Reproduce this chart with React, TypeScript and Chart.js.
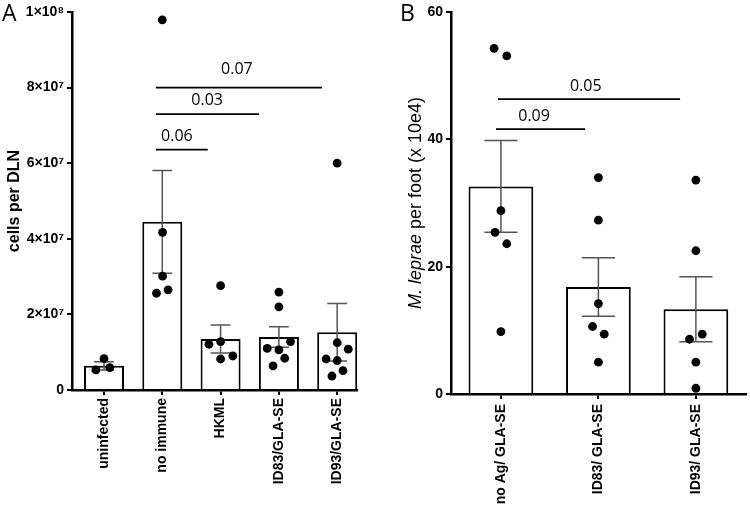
import React, { useEffect, useRef } from 'react';
import { Chart, registerables } from 'chart.js';

Chart.register(...registerables);

const FONT = '"Liberation Sans", Arial, "DejaVu Sans", sans-serif';
const NOTE_FONT = '"Open Sans", "Liberation Sans", sans-serif';

// ---------- Panel A data ----------
const categoriesA = ['uninfected', 'no immune', 'HKML', 'ID83/GLA-SE', 'ID93/GLA-SE'];
const meansA = [6.4e6, 4.45e7, 1.35e7, 1.4e7, 1.53e7];
const semA = [1.1e6, 1.36e7, 3.7e6, 2.7e6, 7.6e6];
const pointsA = [
  [8.3e6, 5.3e6, 5.9e6],
  [9.79e7, 4.17e7, 3.01e7, 2.56e7, 2.65e7],
  [2.76e7, 1.28e7, 1.21e7, 8.2e6, 9.0e6],
  [2.59e7, 2.2e7, 1.28e7, 1.1e7, 1.06e7, 8.4e6, 6.4e6],
  [6.0e7, 1.25e7, 1.08e7, 8.2e6, 7.8e6, 5.1e6, 3.7e6],
];
const jitterA = [
  [0, -0.14, 0.1],
  [0, 0.005, 0.005, -0.1, 0.1],
  [0, 0, -0.2, 0, 0.21],
  [0, 0, 0.2, -0.2, 0, 0.1, -0.1],
  [0, 0, 0.19, -0.19, 0, 0.1, -0.09],
];
const yTicksA = [0, 2e7, 4e7, 6e7, 8e7, 1e8];
const yTickLabelsA = ['0', '2×10⁷', '4×10⁷', '6×10⁷', '8×10⁷', '1×10⁸'];
const bracketFromA = [0.89, 0.89, 0.89];
const bracketToA = [1.78, 2.66, 3.74];
const bracketYA = [6.36e7, 7.3e7, 8.0e7];
const bracketLabelA = ['0.06', '0.03', '0.07'];
const bracketLabelXA = [1.25, 1.77, 2.28];
const bracketLabelYA = [6.7e7, 7.65e7, 8.47e7];

// ---------- Panel B data ----------
const categoriesB = ['no Ag/ GLA-SE', 'ID83/ GLA-SE', 'ID93/ GLA-SE'];
const meansB = [32.6, 16.8, 13.3];
const semB = [7.2, 4.6, 5.1];
const pointsB = [
  [54.3, 53.1, 28.8, 25.4, 23.6, 9.8],
  [34.0, 27.3, 14.2, 10.6, 9.4, 5.0],
  [33.6, 22.5, 9.4, 8.6, 5.0, 0.9],
];
const jitterB = [
  [-0.07, 0.06, 0, -0.06, 0.06, 0],
  [0, 0, 0, -0.06, 0.06, 0],
  [0, 0, 0.065, -0.065, 0, 0],
];
const yTicksB = [0, 20, 40, 60];
const yTickLabelsB = ['0', '20', '40', '60'];
const bracketFromB = [-0.05, -0.03];
const bracketToB = [0.864, 1.838];
const bracketYB = [41.6, 46.3];
const bracketLabelB = ['0.09', '0.05'];
const bracketLabelXB = [0.34, 0.87];
const bracketLabelYB = [43.6, 48.3];

type PanelSpec = {
  categories: string[];
  means: number[];
  sems: number[];
  points: number[][];
  jitter: number[][];
  yTicks: number[];
  yTickLabels: string[];
  yMax: number;
  xMin: number;
  xMax: number;
  barPct: number;
  yWidth: number;
  xHeight: number;
  padRight: number;
  xTickPad: number;
  bFrom: number[];
  bTo: number[];
  bY: number[];
  bLabel: string[];
  bLabelX: number[];
  bLabelY: number[];
  letter: string;
  letterX: number;
  titleOffset: number;
  drawTitle: (ctx: CanvasRenderingContext2D) => void;
};

function makeConfig(p: PanelSpec): any {
  const errorBars = {
    id: 'errorBars',
    afterDatasetDraw(chart: any, args: any) {
      if (args.index !== 0) return;
      const { ctx, scales } = chart;
      const x = scales.x;
      const y = scales.y;
      ctx.save();
      ctx.strokeStyle = '#555';
      ctx.lineWidth = 1.5;
      p.means.forEach((m, i) => {
        const xc = x.getPixelForValue(i);
        const xl = x.getPixelForValue(i - 0.17);
        const xr = x.getPixelForValue(i + 0.17);
        const yt = y.getPixelForValue(m + p.sems[i]);
        const yb = y.getPixelForValue(m - p.sems[i]);
        ctx.beginPath();
        ctx.moveTo(xc, yt);
        ctx.lineTo(xc, yb);
        ctx.moveTo(xl, yt);
        ctx.lineTo(xr, yt);
        ctx.moveTo(xl, yb);
        ctx.lineTo(xr, yb);
        ctx.stroke();
      });
      ctx.restore();
    },
  };
  const annotations = {
    id: 'annotations',
    afterDraw(chart: any) {
      const { ctx, scales, chartArea } = chart;
      const x = scales.x;
      const y = scales.y;
      ctx.save();
      ctx.strokeStyle = '#000';
      ctx.lineWidth = 1.8;
      ctx.fillStyle = '#000';
      ctx.font = `16px ${NOTE_FONT}`;
      ctx.textAlign = 'center';
      ctx.textBaseline = 'middle';
      p.bFrom.forEach((f, i) => {
        const yy = y.getPixelForValue(p.bY[i]);
        ctx.beginPath();
        ctx.moveTo(x.getPixelForValue(f), yy);
        ctx.lineTo(x.getPixelForValue(p.bTo[i]), yy);
        ctx.stroke();
        ctx.fillText(p.bLabel[i], x.getPixelForValue(p.bLabelX[i]), y.getPixelForValue(p.bLabelY[i]));
      });
      // panel letter
      ctx.textAlign = 'left';
      ctx.textBaseline = 'alphabetic';
      ctx.font = `23px ${NOTE_FONT}`;
      ctx.fillText(p.letter, p.letterX, 21);
      // axis title
      ctx.translate(chartArea.left - p.titleOffset, (chartArea.top + chartArea.bottom) / 2);
      ctx.rotate(-Math.PI / 2);
      p.drawTitle(ctx);
      ctx.restore();
    },
  };
  return {
    type: 'bar',
    data: {
      datasets: [
        {
          type: 'bar',
          data: p.means.map((m, i) => ({ x: i, y: m })),
          backgroundColor: '#fff',
          borderColor: '#000',
          borderWidth: 2,
          borderSkipped: 'start',
          barPercentage: p.barPct,
          categoryPercentage: 1,
          order: 2,
        },
        {
          type: 'scatter',
          data: p.points.flatMap((arr, i) => arr.map((v, j) => ({ x: i + p.jitter[i][j], y: v }))),
          backgroundColor: '#000',
          borderColor: '#000',
          borderWidth: 0,
          pointRadius: 4.4,
          clip: false,
          order: 1,
        },
      ],
    },
    options: {
      animation: false,
      responsive: false,
      layout: { padding: { top: 12, right: p.padRight, left: 0, bottom: 0 } },
      plugins: { legend: { display: false }, tooltip: { enabled: false } },
      scales: {
        x: {
          type: 'linear',
          min: p.xMin,
          max: p.xMax,
          offset: false,
          grid: { display: true, drawOnChartArea: false, drawTicks: true, tickLength: 5, color: '#000', lineWidth: 2, offset: false },
          border: { display: true, color: '#000', width: 2.5 },
          afterBuildTicks: (s: any) => {
            s.ticks = p.categories.map((_, i) => ({ value: i }));
          },
          afterFit: (s: any) => {
            s.height = p.xHeight;
          },
          ticks: {
            autoSkip: false,
            minRotation: 90,
            maxRotation: 90,
            padding: p.xTickPad,
            color: '#000',
            font: { family: FONT, size: 14, weight: 'bold' },
            callback: (v: number) => p.categories[Math.round(v)] ?? '',
          },
        },
        y: {
          type: 'linear',
          min: 0,
          max: p.yMax,
          grid: { display: true, drawOnChartArea: false, drawTicks: true, tickLength: 5, color: '#000', lineWidth: 2 },
          border: { display: true, color: '#000', width: 2.5 },
          afterBuildTicks: (s: any) => {
            s.ticks = p.yTicks.map((v) => ({ value: v }));
          },
          afterFit: (s: any) => {
            s.width = p.yWidth;
          },
          ticks: {
            padding: 3,
            color: '#000',
            font: { family: FONT, size: 14, weight: 'bold' },
            callback: (v: number) => {
              const k = p.yTicks.indexOf(v);
              return k >= 0 ? p.yTickLabels[k] : '';
            },
          },
        },
      },
    },
    plugins: [errorBars, annotations],
  };
}

const specA: PanelSpec = {
  categories: categoriesA,
  means: meansA,
  sems: semA,
  points: pointsA,
  jitter: jitterA,
  yTicks: yTicksA,
  yTickLabels: yTickLabelsA,
  yMax: 1e8,
  xMin: -0.549,
  xMax: 4.34,
  barPct: 0.686,
  yWidth: 72,
  xHeight: 116,
  padRight: 23,
  xTickPad: 3,
  bFrom: bracketFromA,
  bTo: bracketToA,
  bY: bracketYA,
  bLabel: bracketLabelA,
  bLabelX: bracketLabelXA,
  bLabelY: bracketLabelYA,
  letter: 'A',
  letterX: 2,
  titleOffset: 57,
  drawTitle: (ctx) => {
    ctx.font = `bold 16px ${FONT}`;
    ctx.textAlign = 'center';
    ctx.textBaseline = 'middle';
    ctx.fillText('cells per DLN', 0, 0);
  },
};

const specB: PanelSpec = {
  categories: categoriesB,
  means: meansB,
  sems: semB,
  points: pointsB,
  jitter: jitterB,
  yTicks: yTicksB,
  yTickLabels: yTickLabelsB,
  yMax: 60,
  xMin: -0.512,
  xMax: 2.51,
  barPct: 0.664,
  yWidth: 71,
  xHeight: 112,
  padRight: 1,
  xTickPad: 5,
  bFrom: bracketFromB,
  bTo: bracketToB,
  bY: bracketYB,
  bLabel: bracketLabelB,
  bLabelX: bracketLabelXB,
  bLabelY: bracketLabelYB,
  letter: 'B',
  letterX: 20,
  titleOffset: 35,
  drawTitle: (ctx) => {
    const italicPart = 'M. leprae';
    const rest = ' per foot (x 10e4)';
    const fi = `italic 18px ${FONT}`;
    const fn = `18px ${FONT}`;
    ctx.textBaseline = 'middle';
    ctx.textAlign = 'left';
    ctx.font = fi;
    const w1 = ctx.measureText(italicPart).width;
    ctx.font = fn;
    const w2 = ctx.measureText(rest).width;
    const start = -(w1 + w2) / 2;
    ctx.font = fi;
    ctx.fillText(italicPart, start, 0);
    ctx.font = fn;
    ctx.fillText(rest, start + w1, 0);
  },
};

export default function App() {
  const refA = useRef<HTMLCanvasElement | null>(null);
  const refB = useRef<HTMLCanvasElement | null>(null);

  useEffect(() => {
    if (!refA.current || !refB.current) return;
    const ca = new Chart(refA.current, makeConfig(specA));
    const cb = new Chart(refB.current, makeConfig(specB));
    return () => {
      ca.destroy();
      cb.destroy();
    };
  }, []);

  return (
    <div style={{ position: 'absolute', left: 0, top: 0, width: 750, height: 506, background: '#fff', overflow: 'hidden' }}>
      <canvas ref={refA} width={380} height={506} style={{ position: 'absolute', left: 0, top: 0, width: 380, height: 506 }} />
      <canvas ref={refB} width={370} height={506} style={{ position: 'absolute', left: 380, top: 0, width: 370, height: 506 }} />
    </div>
  );
}
